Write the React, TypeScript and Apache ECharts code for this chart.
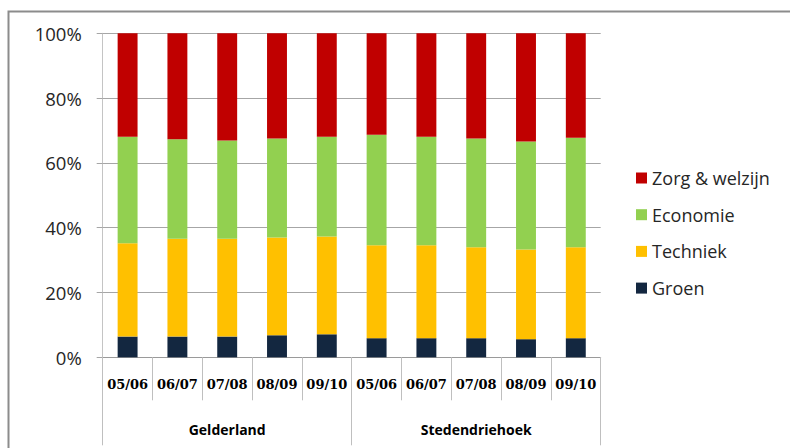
import React, { useEffect, useRef } from "react";
import * as echarts from "echarts";

const periods = ["05/06", "06/07", "07/08", "08/09", "09/10", "05/06", "06/07", "07/08", "08/09", "09/10"];
const regions = ["Gelderland", "Stedendriehoek"];
const yTicks = [0, 20, 40, 60, 80, 100];

const groen = [6.4, 6.4, 6.4, 6.8, 7.1, 5.9, 5.9, 5.9, 5.6, 5.9];
const techniek = [28.8, 30.2, 30.2, 30.2, 30.2, 28.7, 28.7, 28.1, 27.7, 28.1];
const economie = [32.9, 30.7, 30.3, 30.5, 30.8, 34.1, 33.5, 33.5, 33.3, 33.8];
const zorg = [31.9, 32.7, 33.1, 32.5, 31.9, 31.3, 31.9, 32.5, 33.4, 32.2];

const seriesNames = ["Groen", "Techniek", "Economie", "Zorg & welzijn"];
const seriesColors = ["#132740", "#FFC000", "#92D050", "#C00000"];
const legendOrder = ["Zorg & welzijn", "Economie", "Techniek", "Groen"];

export default function App() {
  const ref = useRef<HTMLDivElement>(null);
  useEffect(() => {
    document.body.style.margin = "0";
    if (!ref.current) return;
    const chart = echarts.init(ref.current, null, { renderer: "svg" });
    const values = [groen, techniek, economie, zorg];
    chart.setOption({
      animation: false,
      backgroundColor: "#ffffff",
      graphic: [
        {
          type: "rect",
          shape: { x: 8.5, y: 11.5, width: 900, height: 600 },
          style: { fill: "none", stroke: "#8c8c8c", lineWidth: 2 },
          silent: true,
        },
      ],
      legend: {
        orient: "vertical",
        left: 636,
        top: 168,
        itemWidth: 11,
        itemHeight: 11,
        itemGap: 16.7,
        icon: "rect",
        data: legendOrder,
        padding: 0,
        textStyle: { fontFamily: "Open Sans", fontSize: 18, color: "#262626", lineHeight: 20 },
      },
      grid: { left: 102.7, right: 189.3, top: 33.3, bottom: 90.7, containLabel: false },
      xAxis: [
        {
          type: "category",
          data: periods,
          position: "bottom",
          axisLine: { show: true, lineStyle: { color: "#9a9a9a", width: 1 } },
          axisTick: { show: true, length: 43, interval: 0, lineStyle: { color: "#bfbfbf" } },
          axisLabel: {
            interval: 0,
            margin: 21,
            fontFamily: "DejaVu Serif",
            fontWeight: "bold",
            fontSize: 13,
            color: "#000000",
          },
        },
        {
          type: "category",
          data: regions,
          position: "bottom",
          axisLine: { show: false },
          axisTick: { show: true, length: 88, interval: 0, lineStyle: { color: "#bfbfbf" } },
          axisLabel: {
            interval: 0,
            margin: 65,
            fontFamily: "Open Sans",
            fontWeight: "bold",
            fontSize: 14,
            color: "#000000",
          },
        },
      ],
      yAxis: {
        type: "value",
        min: yTicks[0],
        max: yTicks[yTicks.length - 1],
        interval: 20,
        axisLine: { show: true, lineStyle: { color: "#c4c4c4" } },
        axisTick: { show: true, length: 6, lineStyle: { color: "#a6a6a6" } },
        splitLine: { show: true, lineStyle: { color: "#a6a6a6", width: 1 } },
        axisLabel: {
          formatter: "{value}%",
          margin: 21,
          fontFamily: "Open Sans",
          fontSize: 18.5,
          color: "#262626",
        },
      },
      series: seriesNames.map((name, i) => ({
        name,
        type: "bar",
        stack: "total",
        xAxisIndex: 0,
        barWidth: "40%",
        itemStyle: { color: seriesColors[i] },
        data: values[i],
      })),
    });
    return () => chart.dispose();
  }, []);
  return <div ref={ref} style={{ width: 790, height: 448 }} />;
}
